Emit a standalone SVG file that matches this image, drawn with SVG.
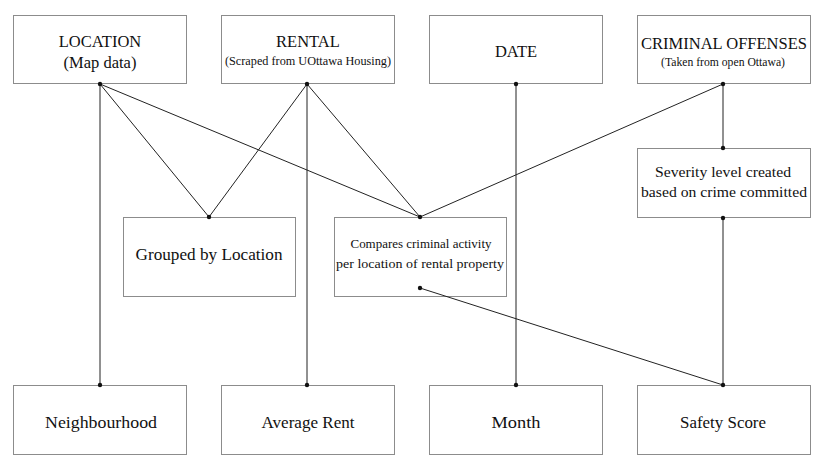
<svg xmlns="http://www.w3.org/2000/svg" width="823" height="469" viewBox="0 0 823 469">
<style>
rect.box{fill:#fff;stroke:#8c8c8c;stroke-width:1}
text{font-family:"Liberation Serif","DejaVu Serif",serif;fill:#111;text-anchor:middle}
.big{font-size:16.5px}
.bot{font-size:17px}
.small{font-size:12px}
.mid{font-size:13px}
.sev{font-size:15.5px}
#connectors line{stroke:#222;stroke-width:1}
#connectors circle{fill:#111}
</style>
<rect width="823" height="469" fill="#fff"/>
<g id="location"><rect class="box" x="13.5" y="15.5" width="173" height="68"/><text class="big" x="100" y="47">LOCATION</text><text class="big" x="100" y="68">(Map data)</text></g>
<g id="rental"><rect class="box" x="221.5" y="15.5" width="173" height="68"/><text class="big" x="308" y="47">RENTAL</text><text class="small" x="308" y="65" textLength="166" lengthAdjust="spacingAndGlyphs">(Scraped from UOttawa Housing)</text></g>
<g id="date"><rect class="box" x="429.5" y="15.5" width="173" height="68"/><text class="big" x="516" y="57">DATE</text></g>
<g id="criminal"><rect class="box" x="637.5" y="15.5" width="173" height="68"/><text class="big" x="724" y="49" textLength="166" lengthAdjust="spacingAndGlyphs">CRIMINAL OFFENSES</text><text class="small" x="723" y="66" textLength="124" lengthAdjust="spacingAndGlyphs">(Taken from open Ottawa)</text></g>
<g id="grouped"><rect class="box" x="123.5" y="217.5" width="172" height="79"/><text x="209" y="260" style="font-size:17px" textLength="147" lengthAdjust="spacingAndGlyphs">Grouped by Location</text></g>
<g id="compares"><rect class="box" x="334.5" y="217.5" width="172" height="79"/><text class="mid" x="421" y="248" textLength="141" lengthAdjust="spacingAndGlyphs">Compares criminal activity</text><text class="mid" x="420" y="268" textLength="168" lengthAdjust="spacingAndGlyphs">per location of rental property</text></g>
<g id="severity"><rect class="box" x="637.5" y="148.5" width="173" height="69"/><text class="sev" x="723" y="177" textLength="136" lengthAdjust="spacingAndGlyphs">Severity level  created</text><text class="sev" x="724" y="197" textLength="166" lengthAdjust="spacingAndGlyphs">based on crime committed</text></g>
<g id="neighbourhood"><rect class="box" x="13.5" y="385.5" width="173" height="69"/><text class="bot" x="101" y="428" textLength="112" lengthAdjust="spacingAndGlyphs">Neighbourhood</text></g>
<g id="avgrent"><rect class="box" x="221.5" y="385.5" width="173" height="69"/><text class="bot" x="308" y="428" textLength="93" lengthAdjust="spacingAndGlyphs">Average Rent</text></g>
<g id="month"><rect class="box" x="429.5" y="385.5" width="173" height="69"/><text class="bot" x="516" y="428" textLength="49" lengthAdjust="spacingAndGlyphs">Month</text></g>
<g id="safety"><rect class="box" x="637.5" y="385.5" width="173" height="69"/><text class="bot" x="723" y="428" textLength="86" lengthAdjust="spacingAndGlyphs">Safety Score</text></g>
<g id="connectors">
<line x1="100" y1="84" x2="100" y2="385"/>
<line x1="100" y1="84" x2="209" y2="217"/>
<line x1="100" y1="84" x2="420" y2="217"/>
<line x1="307" y1="84" x2="209" y2="217"/>
<line x1="307" y1="84" x2="307" y2="385"/>
<line x1="307" y1="84" x2="420" y2="217"/>
<line x1="516" y1="84" x2="516" y2="385"/>
<line x1="723" y1="84" x2="420" y2="217"/>
<line x1="723" y1="84" x2="723" y2="148"/>
<line x1="723" y1="218" x2="723" y2="385"/>
<line x1="420" y1="288" x2="723" y2="385"/>
<circle cx="100" cy="84" r="2.2"/><circle cx="307" cy="84" r="2.2"/><circle cx="516" cy="84" r="2.2"/><circle cx="723" cy="84" r="2.2"/>
<circle cx="209" cy="217" r="2.2"/><circle cx="420" cy="217" r="2.2"/><circle cx="420" cy="288" r="2.2"/>
<circle cx="723" cy="148" r="2.2"/><circle cx="723" cy="218" r="2.2"/>
<circle cx="100" cy="385" r="2.2"/><circle cx="307" cy="385" r="2.2"/><circle cx="516" cy="385" r="2.2"/><circle cx="723" cy="385" r="2.2"/>
</g>
</svg>
